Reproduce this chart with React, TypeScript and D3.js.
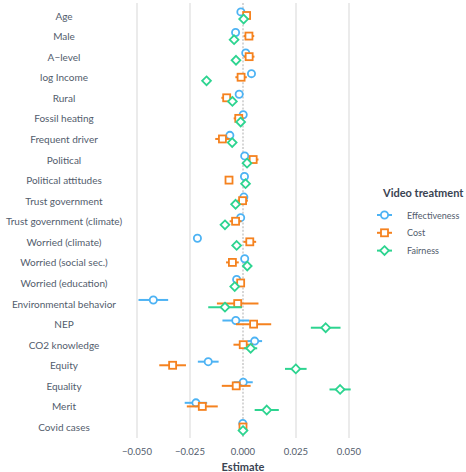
import React from "react";
import * as d3 from "d3";

const terms = [
  "Age", "Male", "A\u2212level", "log Income", "Rural", "Fossil heating", "Frequent driver",
  "Political", "Political attitudes", "Trust government", "Trust government (climate)",
  "Worried (climate)", "Worried (social sec.)", "Worried (education)", "Environmental behavior",
  "NEP", "CO2 knowledge", "Equity", "Equality", "Merit", "Covid cases",
];

const treatments = ["Effectiveness", "Cost", "Fairness"];

// point estimates per treatment, in the order of `terms`
const effEst = [-0.001, -0.0035, 0.0013, 0.004, -0.0018, 0.0001, -0.0062, 0.0008, 0.0007, 0.0004, -0.0011, -0.0215, 0.0008, -0.003, -0.0423, -0.0034, 0.0055, -0.0164, 0.0001, -0.0222, -0.0001];
const costEst = [0.0017, 0.0028, 0.0029, -0.0009, -0.0077, -0.002, -0.0097, 0.0048, -0.0066, -0.0002, -0.0035, 0.0032, -0.005, -0.0011, -0.0025, 0.005, 0.0001, -0.0332, -0.0032, -0.0192, 0.0];
const fairEst = [0.0003, -0.0042, -0.0033, -0.0172, -0.005, -0.0011, -0.0051, 0.0019, 0.0012, -0.0035, -0.0085, -0.003, 0.002, -0.0039, -0.0085, 0.039, 0.0036, 0.0249, 0.0458, 0.0112, 0.0];

// half-widths of the confidence intervals
const effCI = [0.0012, 0.0012, 0.0012, 0.0012, 0.0012, 0.0012, 0.0014, 0.0012, 0.0012, 0.0012, 0.0012, 0.0014, 0.0012, 0.0012, 0.007, 0.0063, 0.0035, 0.0049, 0.0045, 0.0053, 0.0008];
const costCI = [0.0016, 0.0025, 0.0025, 0.0027, 0.0025, 0.0024, 0.0034, 0.0025, 0.0014, 0.0025, 0.0028, 0.003, 0.003, 0.002, 0.0098, 0.0083, 0.0046, 0.0063, 0.0068, 0.0073, 0.0008];
const fairCI = [0.0012, 0.0012, 0.0012, 0.0012, 0.0012, 0.0012, 0.0014, 0.0012, 0.0012, 0.0012, 0.0012, 0.0012, 0.0012, 0.0012, 0.0079, 0.007, 0.0031, 0.0051, 0.005, 0.0057, 0.0008];

const xTicks = [-0.05, -0.025, 0, 0.025, 0.05];

const colors = ["#4db3f4", "#f5821f", "#2dd490"];
const offsets = [-3.6, 0, 3.6];
const FONT = "Lato, 'Open Sans', sans-serif";
const TEXT = "#525c6c";

function Marker({ kind, x, y, color }: { kind: number; x: number; y: number; color: string }) {
  const sw = 1.8;
  if (kind === 0) return <circle cx={x} cy={y} r={3.6} fill="white" stroke={color} strokeWidth={sw} />;
  if (kind === 1) return <rect x={x - 3.5} y={y - 3.5} width={7} height={7} fill="white" stroke={color} strokeWidth={sw} />;
  const s = 4.4;
  return <path d={`M${x},${y - s}L${x + s},${y}L${x},${y + s}L${x - s},${y}Z`} fill="white" stroke={color} strokeWidth={sw} />;
}

export default function App() {
  const width = 466;
  const height = 472;
  const x = d3.scaleLinear().domain([-0.05, 0.05]).range([137, 349]);
  const y = d3.scalePoint<string>().domain(terms).range([15.5, 427]);
  const panelTop = 3;
  const panelBottom = 438;

  const series = [
    { est: effEst, ci: effCI },
    { est: costEst, ci: costCI },
    { est: fairEst, ci: fairCI },
  ];

  return (
    <svg width={width} height={height} style={{ position: "absolute", left: 0, top: 0, background: "white" }} fontFamily={FONT}>
      {xTicks.filter((t) => t !== 0).map((t) => (
        <line key={t} x1={x(t)} x2={x(t)} y1={panelTop} y2={panelBottom} stroke="#e6e6e6" strokeWidth={1.6} />
      ))}
      <line x1={x(0)} x2={x(0)} y1={panelTop} y2={panelBottom} stroke="#b5b5b5" strokeWidth={1.1} strokeDasharray="2,1.6" />

      {terms.map((t) => (
        <text key={t} x={64} y={y(t)!} textAnchor="middle" dominantBaseline="central" fontSize={10} fill={TEXT}>
          {t}
        </text>
      ))}

      {series.map((s, k) =>
        terms.map((t, i) => {
          const cy = y(t)! + offsets[k];
          return (
            <g key={`${k}-${i}`}>
              <line x1={x(s.est[i] - s.ci[i])} x2={x(s.est[i] + s.ci[i])} y1={cy} y2={cy} stroke={colors[k]} strokeWidth={2} />
              <Marker kind={k} x={x(s.est[i])} y={cy} color={colors[k]} />
            </g>
          );
        })
      )}

      {xTicks.map((t) => (
        <text key={t} x={x(t)} y={451} textAnchor="middle" dominantBaseline="central" fontSize={9.5} fill={TEXT}>
          {d3.format(".3f")(t).replace("-", "\u2212")}
        </text>
      ))}
      <text x={x(0)} y={466} textAnchor="middle" dominantBaseline="central" fontSize={11} fontWeight="bold" fill="#3a4352">
        Estimate
      </text>

      <text x={383} y={192} dominantBaseline="central" fontSize={11} fontWeight="bold" fill="#3a4352">
        Video treatment
      </text>
      {treatments.map((tr, k) => {
        const ly = 215 + k * 17.8;
        return (
          <g key={tr}>
            <line x1={377} x2={392} y1={ly} y2={ly} stroke={colors[k]} strokeWidth={2} />
            <Marker kind={k} x={384.5} y={ly} color={colors[k]} />
            <text x={407} y={ly} dominantBaseline="central" fontSize={9} fill={TEXT}>
              {tr}
            </text>
          </g>
        );
      })}
    </svg>
  );
}
